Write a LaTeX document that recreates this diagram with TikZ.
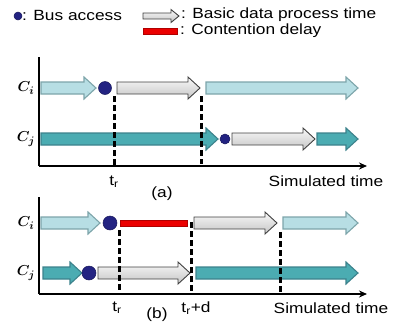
\documentclass[tikz,border=0pt]{standalone}
\usepackage{amsmath}
\usepackage{fontspec}
\setmainfont{Liberation Sans}[FakeStretch=1.17]
\usepackage{tikz}
\usetikzlibrary{arrows.meta, positioning, calc}
\definecolor{lcyan}{RGB}{183,222,228}
\definecolor{lcyanedge}{RGB}{125,165,170}
\definecolor{tealfill}{RGB}{75,172,178}
\definecolor{tealedge}{RGB}{60,130,140}
\definecolor{busblue}{RGB}{35,35,130}
\definecolor{delayred}{RGB}{235,0,0}
\definecolor{delayedge}{RGB}{175,0,0}
\tikzset{
  lightarr/.style={fill=lcyan, draw=lcyanedge, line width=1.1pt},
  tealarr/.style={fill=tealfill, draw=tealedge, line width=1.1pt},
  grayarr/.style={top color=gray!5, bottom color=gray!45, draw=black!75, line width=0.9pt},
  busdot/.style={circle, fill=busblue, draw=busblue!70!black, line width=0.5pt, inner sep=0pt},
  delaybar/.style={fill=delayred, draw=delayedge, line width=0.8pt},
  marker/.style={black, line width=3pt, dash pattern=on 6pt off 3pt},
  axis/.style={black, line width=2pt},
  lbl/.style={font=\fontsize{14.8}{17}\selectfont, inner sep=0pt},
  core/.style={font=\fontsize{15}{17}\selectfont, inner sep=0pt}
}
% block arrow: style, x from, x to, y, half shaft, half head, head length
\newcommand{\blkarrow}[7]{%
  \draw[#1] (#2,#4-#5) -- (#3-#7,#4-#5) -- (#3-#7,#4-#6) -- (#3,#4)
    -- (#3-#7,#4+#6) -- (#3-#7,#4+#5) -- (#2,#4+#5) -- cycle;}

\begin{document}
\begin{tikzpicture}[x=1pt, y=-1pt]
  \useasboundingbox (0,0) rectangle (394,322);

  % Legend
  \node[busdot, minimum size=8pt] (legdot) at (18,16) {};
  \node[lbl, anchor=west] (legbus) at (22,15) {: Bus access};
  \blkarrow{grayarr}{143}{179}{16}{3}{6.5}{8}
  \coordinate (legarr) at (179,16);
  \node[lbl, anchor=west] (legproc) at (181,15) {: Basic data process time};
  \draw[delaybar] (143,28) rectangle (177,34);
  \coordinate (legbar) at (177,31);
  \node[lbl, anchor=west] (legdelay) at (180,31) {: Contention delay};

  % Panel (a)
  \coordinate (aorig) at (39,166);
  \draw[axis] (39,57) -- (aorig);
  \draw[axis, -{Stealth[length=8pt, width=7pt]}] (aorig) -- (367,166);
  \node[core] (aci) at (26,88) {$\boldsymbol{C_i}$};
  \node[core] (acj) at (26,139) {$\boldsymbol{C_j}$};
  \blkarrow{lightarr}{41}{96}{88}{6}{11}{12}
  \blkarrow{grayarr}{117}{200}{88}{6}{11}{12}
  \blkarrow{lightarr}{206}{358}{88}{6}{11}{12}
  \node[busdot, minimum size=13pt] (adoti) at (105,88) {};
  \blkarrow{tealarr}{41}{218}{139}{6}{11}{12}
  \node[busdot, minimum size=10pt] (adotj) at (225,139) {};
  \blkarrow{grayarr}{232}{315}{139}{6}{11}{12}
  \blkarrow{tealarr}{317}{358}{139}{6}{11}{12}
  \coordinate (atr) at (114,96);
  \coordinate (aend) at (201,96);
  \draw[marker] (atr) -- (atr |- aorig);
  \draw[marker] (aend) -- ($(aend |- aorig)+(0,-2)$);
  \node[lbl] (atrl) at (114,182) {t\textsubscript{r}};
  \node[lbl] (acap) at (162,194) {(a)};
  \node[lbl] (atime) at (326,181) {Simulated time};

  % Panel (b)
  \coordinate (borig) at (39,294);
  \draw[axis] (39,197) -- (borig);
  \draw[axis, -{Stealth[length=8pt, width=7pt]}] (borig) -- (367,294);
  \node[core] (bci) at (26,223) {$\boldsymbol{C_i}$};
  \node[core] (bcj) at (26,273) {$\boldsymbol{C_j}$};
  \blkarrow{lightarr}{41}{100}{223}{6}{11}{12}
  \node[busdot, minimum size=14pt] (bdoti) at (110,223) {};
  \draw[delaybar] (120,220) rectangle (187,226);
  \blkarrow{grayarr}{194}{277}{223}{6}{11}{12}
  \blkarrow{lightarr}{283}{358}{223}{6}{11}{12}
  \blkarrow{tealarr}{43}{82}{273}{6}{11}{12}
  \node[busdot, minimum size=14pt] (bdotj) at (89,273) {};
  \blkarrow{grayarr}{98}{190}{273}{6}{11}{12}
  \blkarrow{tealarr}{196}{358}{273}{6}{11}{12}
  \coordinate (btr) at (119,230);
  \coordinate (btrd) at (191,222);
  \coordinate (bend) at (280,232);
  \draw[marker] (btr) -- (btr |- borig);
  \draw[marker] (btrd) -- (btrd |- borig);
  \draw[marker] (bend) -- (bend |- borig);
  \node[lbl] (btrl) at (117,308) {t\textsubscript{r}};
  \node[lbl] (btrdl) at (196,308) {t\textsubscript{r}+d};
  \node[lbl] (bcap) at (157,315) {(b)};
  \node[lbl] (btime) at (331,308) {Simulated time};

\end{tikzpicture}
\end{document}
